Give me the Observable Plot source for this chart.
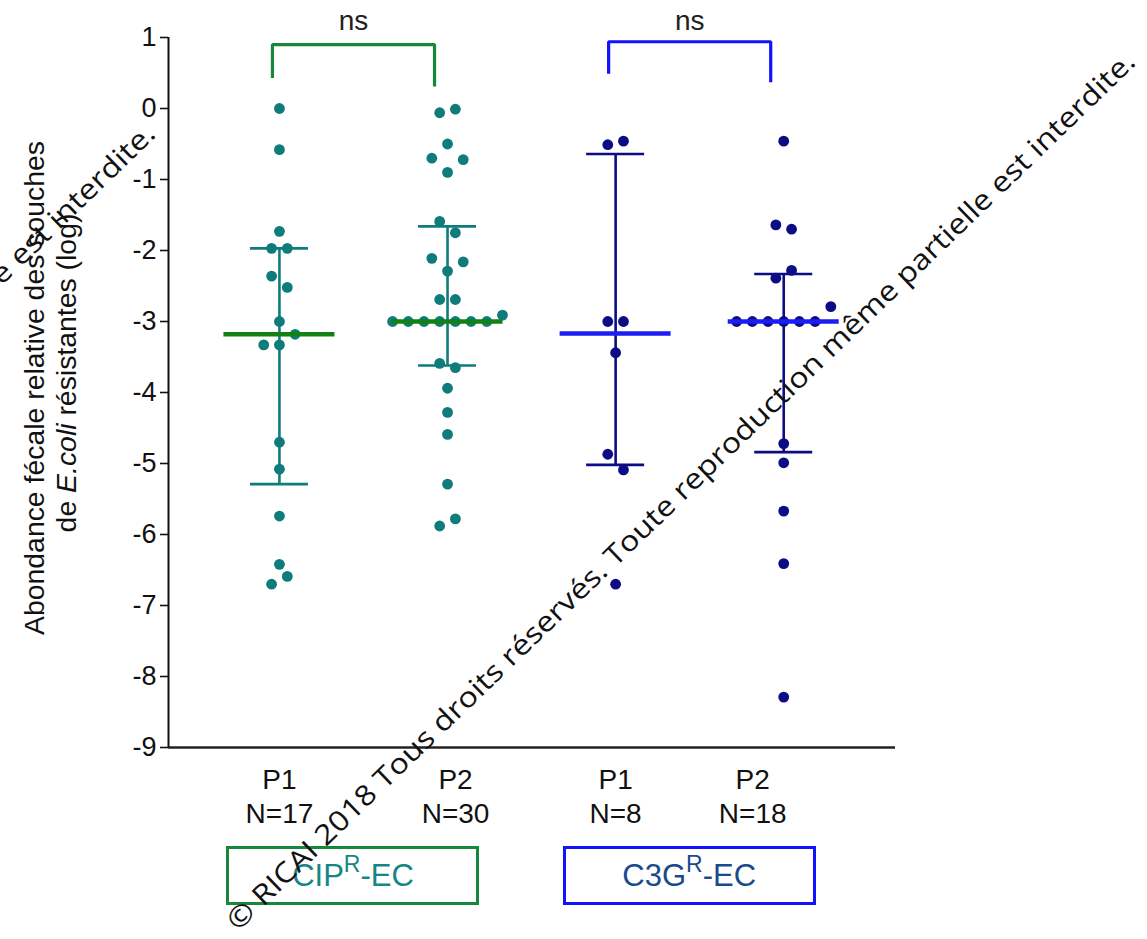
<!DOCTYPE html>
<html><head><meta charset="utf-8">
<script src="https://cdn.jsdelivr.net/npm/d3@7"></script>
<script src="https://cdn.jsdelivr.net/npm/@observablehq/plot@0.6"></script>
<style>
body{margin:0;background:#fff;font-family:"Liberation Sans",Arial,sans-serif;}
#wrap{position:relative;width:1147px;height:939px;overflow:hidden;background:#fff;}
#wrap svg.plot{position:absolute;left:0;top:0;}
.box{position:absolute;box-sizing:border-box;border:3px solid;display:flex;align-items:center;justify-content:center;font-size:31px;font-family:"Liberation Sans",Arial,sans-serif;}
.box sup{font-size:23px;position:relative;top:-0.5em;vertical-align:baseline;line-height:0;}
#wm{position:absolute;left:0;top:0;pointer-events:none;}
</style></head><body><div id="wrap"></div>
<script>
// ---- data ----
const groupLabels = ["P1", "P2", "P1", "P2"];
const groupN = [17, 30, 8, 18];
const groupFamily = ["CIP", "CIP", "C3G", "C3G"];

const cipP1 = [0, -0.58, -1.73, -1.97, -1.97, -2.36, -2.52, -3.0, -3.33, -3.33, -3.18, -4.70, -5.08, -5.74, -6.42, -6.70, -6.59];
const cipP2 = [-0.06, -0.01, -0.50, -0.70, -0.90, -0.72, -1.59, -1.75, -2.11, -2.29, -2.16, -2.69, -2.69,
  -3.0, -3.0, -3.0, -3.0, -3.0, -3.0, -3.0, -2.91, -3.59, -3.65, -3.94, -4.28, -4.59, -5.29, -5.88, -5.78];
const c3gP1 = [-0.51, -0.46, -3.0, -3.0, -3.44, -4.87, -5.09, -6.70];
const c3gP2 = [-0.46, -1.64, -1.70, -2.39, -2.28, -3.0, -3.0, -3.0, -3.0, -3.0, -3.0, -2.79, -4.72, -4.99, -5.67, -6.41, -8.29];

const medians = [-3.18, -3.0, -3.17, -3.0];
const errLow = [-5.29, -3.62, -5.02, -4.84];
const errHigh = [-1.97, -1.66, -0.64, -2.33];

const yTicks = [-9, -8, -7, -6, -5, -4, -3, -2, -1, 0, 1];

const comparisons = [[0, 1], [2, 3]];
const compText = ["ns", "ns"];
const compFamily = ["CIP", "C3G"];
const bracketTop = [0.90, 0.94];
const bracketLeftEnd = [0.43, 0.49];
const bracketRightEnd = [0.31, 0.37];

const boxNames = ["CIP", "C3G"];
const yLabel1 = "Abondance fécale relative des souches";
const yLabel2 = ["de ", "E.coli", " résistantes (log)"];
const watermark = "© RICAI 2018 Tous droits réservés. Toute reproduction même partielle est interdite.";

// ---- styles ----
const pointColor = {CIP: "#0f7c7c", C3G: "#0c0c84"};
const medianColor = {CIP: "#128012", C3G: "#1c1cf5"};
const bracketColor = {CIP: "#17873b", C3G: "#1212ff"};
const boxTextColor = {CIP: "#168585", C3G: "#1a4a8c"};
const labelShiftPx = [0, 8, 0, -31];

const W = 1147, H = 840, mL = 168, mR = 252, mT = 37, mB = 93;
const xMin = -0.66, xMax = 3.665;
const pxU = (W - mL - mR) / (xMax - xMin);
const slotPx = 15.7, capPx = 29, medPx = 55.5;

// beeswarm-like spreading: cluster close values, spread symmetrically
const series = [cipP1, cipP2, c3gP1, c3gP2];
const points = [];
const tol = 0.23;
series.forEach((vals, g) => {
  const idx = d3.range(vals.length).sort((a, b) => vals[a] - vals[b] || a - b);
  let cluster = [], anchor = null;
  const flush = () => {
    const m = cluster.slice().sort((a, b) => a - b);
    const n = m.length;
    m.forEach((k, j) => points.push({g, v: vals[k], slot: j - (n - 1) / 2, color: pointColor[groupFamily[g]]}));
    cluster = [];
  };
  for (const k of idx) {
    if (cluster.length && vals[k] - anchor > tol) flush();
    if (!cluster.length) anchor = vals[k];
    cluster.push(k);
  }
  flush();
});

const stats = medians.map((m, g) => ({g, median: m, low: errLow[g], high: errHigh[g],
  bar: pointColor[groupFamily[g]], med: medianColor[groupFamily[g]]}));

const xLabels = groupLabels.map((p, g) => ({g, text: `${p}\nN=${groupN[g]}`}));

const offL = -7 / pxU, offR = -13 / pxU;
const bracketPts = [];
const bracketInfo = comparisons.map(([a, b], i) => {
  const c = bracketColor[compFamily[i]];
  const xa = a + offL, xb = b + offR;
  bracketPts.push({i, x: xa, y: bracketLeftEnd[i], c}, {i, x: xa, y: bracketTop[i], c},
    {i, x: xb, y: bracketTop[i], c}, {i, x: xb, y: bracketRightEnd[i], c});
  return {i, mid: (xa + xb) / 2, text: compText[i]};
});

const font = '"Liberation Sans", Arial, sans-serif';
const plot = Plot.plot({
  width: W, height: H, marginLeft: mL, marginRight: mR, marginTop: mT, marginBottom: mB,
  style: {fontFamily: font, background: "transparent", overflow: "visible", color: "#111"},
  x: {domain: [xMin, xMax], axis: null},
  y: {domain: [-9, 1], axis: null},
  color: {type: "identity"},
  marks: [
    Plot.axisY({ticks: yTicks, tickSize: 8, tickPadding: 4, fontSize: 27, tickFormat: d => String(d), label: null, strokeWidth: 1.6}),
    Plot.text(xLabels, {x: d => d.g + labelShiftPx[d.g] / pxU, y: () => -9, dy: 17, lineAnchor: "top",
      fontSize: 28, lineHeight: 1.22, text: "text", fill: "#111"}),
    Plot.ruleY([-9], {stroke: "#222", strokeWidth: 2.5}),
    Plot.ruleX([xMin], {y1: -9, y2: 1, stroke: "#111", strokeWidth: 2}),
    Plot.ruleX(stats, {x: "g", y1: "low", y2: "high", stroke: "bar", strokeWidth: 2.6}),
    Plot.ruleY(stats, {y: "low", x1: d => d.g - capPx / pxU, x2: d => d.g + capPx / pxU, stroke: "bar", strokeWidth: 2.6}),
    Plot.ruleY(stats, {y: "high", x1: d => d.g - capPx / pxU, x2: d => d.g + capPx / pxU, stroke: "bar", strokeWidth: 2.6}),
    Plot.dot(points, {x: d => d.g + d.slot * slotPx / pxU, y: "v", r: 5.4, fill: "color", stroke: null}),
    Plot.ruleY(stats, {y: "median", x1: d => d.g - medPx / pxU, x2: d => d.g + medPx / pxU, stroke: "med", strokeWidth: 4.5}),
    Plot.line(bracketPts, {x: "x", y: "y", z: "i", stroke: "c", strokeWidth: 3.2, strokeLinejoin: "miter", strokeLinecap: "butt"}),
    Plot.text(bracketInfo, {x: "mid", frameAnchor: "top", dy: -8, lineAnchor: "bottom", text: "text", fontSize: 28, fill: "#222"})
  ]
});
plot.classList.add("plot");
const wrap = document.getElementById("wrap");
wrap.appendChild(plot);

// y-axis title (two lines, rotated)
const svg = d3.select(plot);
svg.append("text").attr("transform", "translate(44,388) rotate(-90)")
  .attr("text-anchor", "middle").attr("font-size", 28.4).attr("fill", "#111").text(yLabel1);
const t2 = svg.append("text").attr("transform", "translate(76,373) rotate(-90)")
  .attr("text-anchor", "middle").attr("font-size", 28.4).attr("fill", "#111");
yLabel2.forEach((s, i) => t2.append("tspan").attr("font-style", i === 1 ? "italic" : null).text(s));

// family boxes below the axis
const xs = plot.scale("x");
bracketInfo.forEach((b, i) => {
  const cx = xs.apply(b.mid);
  const fam = compFamily[i];
  const d = document.createElement("div");
  d.className = "box";
  d.style.left = (cx - 126.5) + "px";
  d.style.top = "846px";
  d.style.width = "253px";
  d.style.height = "59px";
  d.style.borderColor = bracketColor[fam];
  d.style.color = boxTextColor[fam];
  d.innerHTML = `${boxNames[i]}<sup>R</sup>-EC`;
  wrap.appendChild(d);
});

// watermark overlay
const wm = d3.select(wrap).append("svg").attr("id", "wm").attr("width", 1147).attr("height", 939);
[[238, 932], [-742, 1004]].forEach(([x, y]) => {
  wm.append("text").attr("transform", `translate(${x},${y}) rotate(-44)`)
    .attr("font-family", '"Open Sans", "Noto Sans", sans-serif').attr("font-size", 28)
    .attr("textLength", 1250).attr("lengthAdjust", "spacingAndGlyphs")
    .attr("fill", "#111").text(watermark);
});
</script></body></html>
